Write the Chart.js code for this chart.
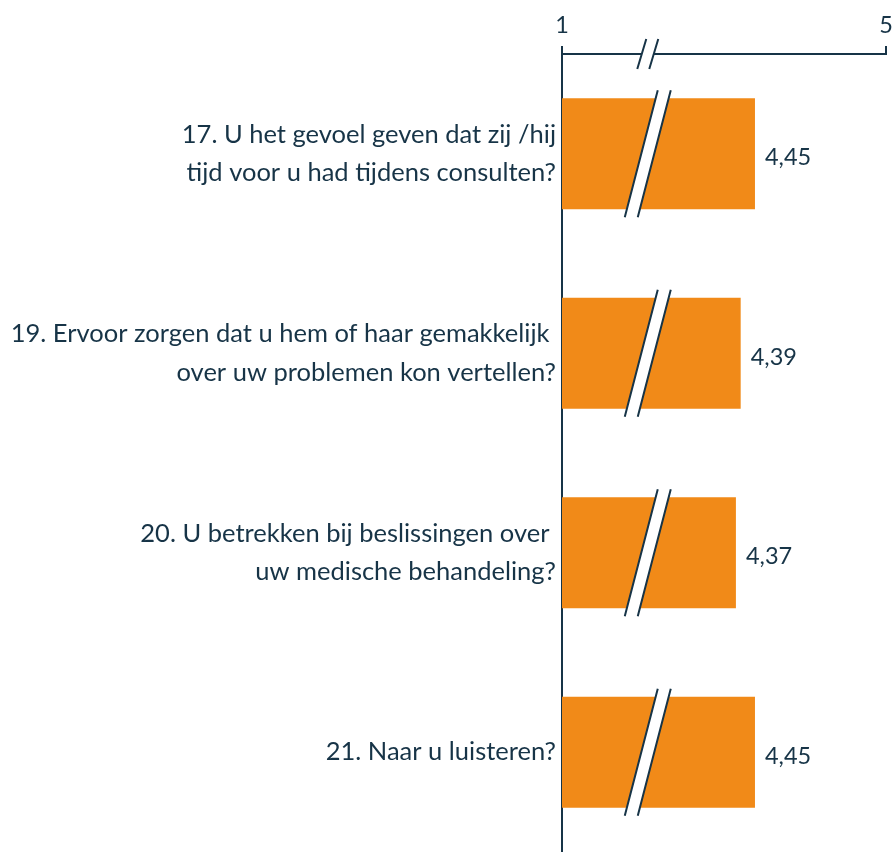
<!DOCTYPE html>
<html>
<head>
<meta charset="utf-8">
<script src="https://cdn.jsdelivr.net/npm/chart.js@4"></script>
<style>
  html, body { margin: 0; padding: 0; background: #fff; }
  #wrap { width: 894px; height: 852px; }
</style>
</head>
<body>
<div id="wrap"><canvas id="chart"></canvas></div>
<script>
// data
const categories = [
  ["17. U het gevoel geven dat zij /hij", "tijd voor u had tijdens consulten?"],
  ["19. Ervoor zorgen dat u hem of haar gemakkelijk ", "over uw problemen kon vertellen?"],
  ["20. U betrekken bij beslissingen over ", "uw medische behandeling?"],
  ["21. Naar u luisteren?"]
];
const scores = [4.45, 4.39, 4.37, 4.45];
const tickLabels = ["1", "5"];

// broken axis: the left end is labelled 1 but the scale really starts higher
const axisMin = 3.64;
const axisMax = 5;
const breakAt = 4.0;

const ORANGE = "#F18A18";
const DARK = "#173447";
const FONT = "Lato, 'Open Sans', sans-serif";

// value labels + break marks on the bars and on the top axis
const breakPlugin = {
  id: "breaks",
  afterDatasetsDraw(chart) {
    const ctx = chart.ctx;
    const xs = chart.scales.x;
    const bx = xs.getPixelForValue(breakAt);
    const meta = chart.getDatasetMeta(0);
    ctx.save();
    meta.data.forEach((bar, i) => {
      const top = bar.y - bar.height / 2 - 8;
      const bottom = bar.y + bar.height / 2 + 8;
      drawBreak(ctx, bx, bar.y, top, bottom, 0.26, 13);
      // value label
      ctx.fillStyle = DARK;
      ctx.font = "23.5px " + FONT;
      ctx.textAlign = "left";
      ctx.textBaseline = "middle";
      ctx.fillText(scores[i].toFixed(2).replace(".", ","), bar.x + 10, bar.y + 4);
    });
    const ay = chart.chartArea.top;
    drawBreak(ctx, bx, ay, ay - 15, ay + 15, 0.3, 12);
    ctx.restore();
  }
};

function drawBreak(ctx, cx, cy, top, bottom, slant, gap) {
  const x1t = cx - gap / 2 + (cy - top) * slant;
  const x1b = cx - gap / 2 - (bottom - cy) * slant;
  ctx.fillStyle = "#fff";
  ctx.beginPath();
  ctx.moveTo(x1t, top);
  ctx.lineTo(x1t + gap, top);
  ctx.lineTo(x1b + gap, bottom);
  ctx.lineTo(x1b, bottom);
  ctx.closePath();
  ctx.fill();
  ctx.strokeStyle = DARK;
  ctx.lineWidth = 2;
  ctx.beginPath();
  ctx.moveTo(x1t, top);
  ctx.lineTo(x1b, bottom);
  ctx.moveTo(x1t + gap, top);
  ctx.lineTo(x1b + gap, bottom);
  ctx.stroke();
}

new Chart(document.getElementById("chart"), {
  type: "bar",
  data: {
    labels: categories,
    datasets: [{
      data: scores,
      backgroundColor: ORANGE,
      borderWidth: 0,
      barPercentage: 0.556,
      categoryPercentage: 1
    }]
  },
  options: {
    indexAxis: "y",
    responsive: true,
    maintainAspectRatio: false,
    animation: false,
    layout: { padding: { left: 0, right: 8, top: 0, bottom: 0 } },
    plugins: { legend: { display: false }, tooltip: { enabled: false } },
    scales: {
      x: {
        position: "top",
        min: axisMin,
        max: axisMax,
        afterBuildTicks(scale) {
          scale.ticks = [{ value: axisMin }, { value: axisMax }];
        },
        afterFit(scale) {
          scale.height = 54;
          scale.paddingLeft = 0;
          scale.paddingRight = 0;
        },
        grid: {
          drawOnChartArea: false,
          drawTicks: true,
          tickLength: 8,
          color: DARK,
          lineWidth: 2
        },
        border: { display: true, color: DARK, width: 2 },
        ticks: {
          autoSkip: false,
          maxRotation: 0,
          padding: 6,
          color: DARK,
          font: { family: FONT, size: 23.5 },
          callback: (v) => (v === axisMin ? tickLabels[0] : tickLabels[1])
        }
      },
      y: {
        afterFit(scale) {
          scale.width = 562;
          scale.paddingTop = 0;
          scale.paddingBottom = 0;
        },
        grid: { display: false, drawTicks: false, tickLength: 0 },
        border: { display: true, color: DARK, width: 2 },
        ticks: {
          padding: 6,
          color: DARK,
          font: { family: FONT, size: 25.5, lineHeight: 1.5 }
        }
      }
    }
  },
  plugins: [breakPlugin]
});
</script>
</body>
</html>
